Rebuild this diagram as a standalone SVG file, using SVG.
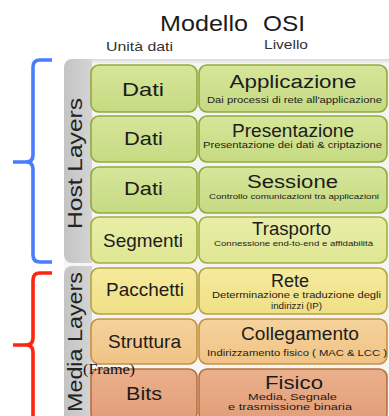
<svg xmlns="http://www.w3.org/2000/svg" width="389" height="416" viewBox="0 0 389 416">
  <style>
    .sans { font-family: "Liberation Sans", Arial, sans-serif; fill: #1c1c1c; }
    .head { font-size: 22px; text-anchor: start; }
    .col { font-size: 13px; fill: #333; }
    .unit { font-size: 19px; text-anchor: middle; }
    .layer { font-size: 18px; text-anchor: middle; }
    .desc { font-size: 9px; text-anchor: middle; }
    .desc-s { font-size: 8px; text-anchor: middle; }
    .side { font-size: 19.5px; text-anchor: middle; fill: #222; }
    .note { font-family: "Liberation Serif", "Times New Roman", serif; font-size: 15px; fill: #111; }
    .box { stroke-width: 1.6; }
    .brace { fill: none; stroke-width: 3.6; stroke-linejoin: round; }
  </style>
  <defs>
    <linearGradient id="gGreen" x1="0" y1="0" x2="0" y2="1">
      <stop offset="0" stop-color="#d6e69a"/>
      <stop offset="1" stop-color="#c6da82"/>
    </linearGradient>
    <linearGradient id="gLime" x1="0" y1="0" x2="0" y2="1">
      <stop offset="0" stop-color="#e9eea8"/>
      <stop offset="1" stop-color="#dfe693"/>
    </linearGradient>
    <linearGradient id="gYellow" x1="0" y1="0" x2="0" y2="1">
      <stop offset="0" stop-color="#f6ea9c"/>
      <stop offset="1" stop-color="#efdf86"/>
    </linearGradient>
    <linearGradient id="gOrange" x1="0" y1="0" x2="0" y2="1">
      <stop offset="0" stop-color="#f6d29c"/>
      <stop offset="1" stop-color="#f0c386"/>
    </linearGradient>
    <linearGradient id="gSalmon" x1="0" y1="0" x2="0" y2="1">
      <stop offset="0" stop-color="#eab08c"/>
      <stop offset="1" stop-color="#e29e78"/>
    </linearGradient>
    <linearGradient id="gBar" x1="0" y1="0" x2="1" y2="0">
      <stop offset="0" stop-color="#c4c4c4"/>
      <stop offset="1" stop-color="#d4d4d4"/>
    </linearGradient>
    <linearGradient id="gPanel" x1="0" y1="0" x2="0" y2="1">
      <stop offset="0" stop-color="#d9d9d9"/>
      <stop offset="0.012" stop-color="#f4f4f4"/>
      <stop offset="1" stop-color="#f6f6f6"/>
    </linearGradient>
  </defs>

  <rect width="389" height="416" fill="#ffffff"/>

  <!-- header -->
  <g id="title">
    <text class="sans head" x="160" y="31" textLength="88" lengthAdjust="spacingAndGlyphs">Modello</text>
    <text class="sans head" x="263" y="31" textLength="42" lengthAdjust="spacingAndGlyphs">OSI</text>
  </g>
  <g id="column-heads">
    <text class="sans col" x="106" y="51" textLength="67" lengthAdjust="spacingAndGlyphs">Unità dati</text>
    <text class="sans col" x="264" y="49" textLength="44" lengthAdjust="spacingAndGlyphs">Livello</text>
  </g>

  <!-- stack backdrop and side bars -->
  <path d="M73,59 H389 V416 H64 V68 Q64,59 73,59 Z" fill="url(#gPanel)"/>
  <g id="host-bar">
    <path d="M73,59 H92 V263 H73 Q64,263 64,254 V68 Q64,59 73,59 Z" fill="url(#gBar)"/>
    <text class="sans side" transform="translate(82,163.5) rotate(-90)" textLength="131" lengthAdjust="spacingAndGlyphs">Host Layers</text>
  </g>
  <g id="media-bar">
    <path d="M73,266 H92 V416 H64 V275 Q64,266 73,266 Z" fill="url(#gBar)"/>
    <text class="sans side" transform="translate(82,342) rotate(-90)" textLength="140" lengthAdjust="spacingAndGlyphs">Media Layers</text>
  </g>

  <!-- layer 7 -->
  <g id="applicazione">
    <rect class="box" x="91" y="65" width="106" height="47" rx="8" fill="url(#gGreen)" stroke="#93a93c"/>
    <rect class="box" x="199" y="65" width="188" height="47" rx="8" fill="url(#gGreen)" stroke="#93a93c"/>
    <text class="sans unit" x="143" y="96" textLength="42" lengthAdjust="spacingAndGlyphs">Dati</text>
    <text class="sans layer" x="293" y="88" textLength="127" lengthAdjust="spacingAndGlyphs">Applicazione</text>
    <text class="sans desc" x="294.5" y="102.5" textLength="175" lengthAdjust="spacingAndGlyphs">Dai processi di rete all'applicazione</text>
  </g>

  <!-- layer 6 -->
  <g id="presentazione">
    <rect class="box" x="91" y="116" width="106" height="46" rx="8" fill="url(#gGreen)" stroke="#93a93c"/>
    <rect class="box" x="199" y="116" width="188" height="46" rx="8" fill="url(#gGreen)" stroke="#93a93c"/>
    <text class="sans unit" x="143.5" y="145" textLength="39" lengthAdjust="spacingAndGlyphs">Dati</text>
    <text class="sans layer" x="293" y="136.5" textLength="122" lengthAdjust="spacingAndGlyphs">Presentazione</text>
    <text class="sans desc" x="292.5" y="148" textLength="179" lengthAdjust="spacingAndGlyphs">Presentazione dei dati &amp; criptazione</text>
  </g>

  <!-- layer 5 -->
  <g id="sessione">
    <rect class="box" x="91" y="167" width="106" height="46" rx="8" fill="url(#gGreen)" stroke="#93a93c"/>
    <rect class="box" x="199" y="167" width="188" height="46" rx="8" fill="url(#gGreen)" stroke="#93a93c"/>
    <text class="sans unit" x="143.5" y="195" textLength="39" lengthAdjust="spacingAndGlyphs">Dati</text>
    <text class="sans layer" x="292.5" y="187.5" textLength="91" lengthAdjust="spacingAndGlyphs">Sessione</text>
    <text class="sans desc-s" x="294" y="198.5" textLength="170" lengthAdjust="spacingAndGlyphs">Controllo comunicazioni tra applicazioni</text>
  </g>

  <!-- layer 4 -->
  <g id="trasporto">
    <rect class="box" x="91" y="217" width="106" height="46" rx="8" fill="url(#gLime)" stroke="#a4ae3e"/>
    <rect class="box" x="199" y="217" width="188" height="46" rx="8" fill="url(#gLime)" stroke="#a4ae3e"/>
    <text class="sans unit" x="143" y="247" textLength="80" lengthAdjust="spacingAndGlyphs">Segmenti</text>
    <text class="sans layer" x="291.5" y="235" textLength="79" lengthAdjust="spacingAndGlyphs">Trasporto</text>
    <text class="sans desc-s" x="293.5" y="246" textLength="159" lengthAdjust="spacingAndGlyphs">Connessione end-to-end e affidabilità</text>
  </g>

  <!-- layer 3 -->
  <g id="rete">
    <rect class="box" x="91" y="268" width="106" height="46" rx="8" fill="url(#gYellow)" stroke="#b5a340"/>
    <rect class="box" x="199" y="268" width="188" height="46" rx="8" fill="url(#gYellow)" stroke="#b5a340"/>
    <text class="sans unit" x="145" y="296" textLength="78" lengthAdjust="spacingAndGlyphs">Pacchetti</text>
    <text class="sans layer" x="290" y="286.5" textLength="38" lengthAdjust="spacingAndGlyphs">Rete</text>
    <text class="sans desc" x="296.5" y="298" textLength="169" lengthAdjust="spacingAndGlyphs">Determinazione e traduzione degli</text>
    <text class="sans desc" x="296.5" y="309" textLength="51" lengthAdjust="spacingAndGlyphs">indirizzi (IP)</text>
  </g>

  <!-- layer 2 -->
  <g id="collegamento">
    <rect class="box" x="91" y="319" width="106" height="45" rx="8" fill="url(#gOrange)" stroke="#c6913f"/>
    <rect class="box" x="199" y="319" width="188" height="45" rx="8" fill="url(#gOrange)" stroke="#c6913f"/>
    <text class="sans unit" x="144.5" y="348" textLength="73" lengthAdjust="spacingAndGlyphs">Struttura</text>
    <text class="sans layer" x="300" y="340" textLength="118" lengthAdjust="spacingAndGlyphs">Collegamento</text>
    <text class="sans desc" x="297" y="356" textLength="180" lengthAdjust="spacingAndGlyphs">Indirizzamento fisico ( MAC &amp; LCC )</text>
  </g>

  <!-- layer 1 -->
  <g id="fisico">
    <rect class="box" x="91" y="369" width="106" height="52" rx="8" fill="url(#gSalmon)" stroke="#b8703f"/>
    <rect class="box" x="199" y="369" width="188" height="52" rx="8" fill="url(#gSalmon)" stroke="#b8703f"/>
    <text class="sans unit" x="144" y="400" textLength="36" lengthAdjust="spacingAndGlyphs" fill="#2a1a12">Bits</text>
    <text class="sans layer" x="294" y="388.5" textLength="58" lengthAdjust="spacingAndGlyphs">Fisico</text>
    <text class="sans desc" x="292.5" y="399.5" textLength="89" lengthAdjust="spacingAndGlyphs">Media, Segnale</text>
    <text class="sans desc" x="290" y="409.5" textLength="124" lengthAdjust="spacingAndGlyphs">e trasmissione binaria</text>
  </g>

  <!-- handwritten-style note over the layer 2 / layer 1 boundary -->
  <g id="frame-note">
    <text class="note" x="83" y="374" textLength="52" lengthAdjust="spacingAndGlyphs">(Frame)</text>
  </g>

  <!-- braces grouping the layers -->
  <g id="connectors">
    <path class="brace" stroke="#4a7cff" d="M52,60 H40 Q33,60 33,67 V155 Q33,162 26,162 H13 M26,162 Q33,162 33,169 V255 Q33,262 40,262 H52"/>
    <path class="brace" stroke="#ff2410" d="M52,273 H40 Q33,273 33,280 V338 Q33,345 26,345 H13 M26,345 Q33,345 33,352 V420"/>
  </g>
</svg>
